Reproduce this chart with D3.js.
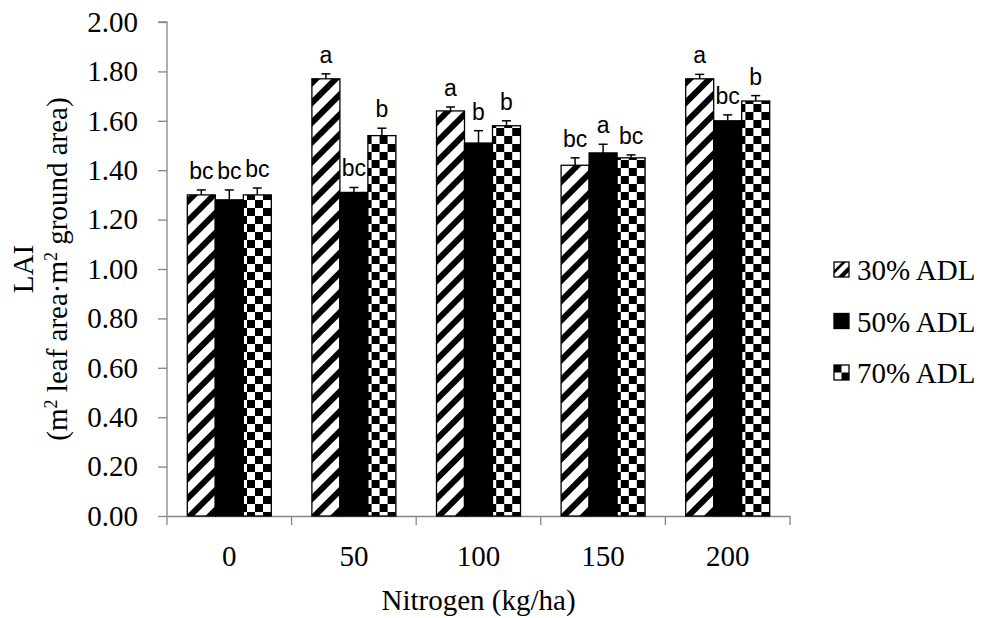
<!DOCTYPE html>
<html>
<head>
<meta charset="utf-8">
<script src="https://cdn.jsdelivr.net/npm/d3@7"></script>
<style>
  body { margin: 0; background: #fff; }
  svg { display: block; }
  svg text { font-family: "Liberation Serif", "Times New Roman", serif; }
  svg text.letter { font-family: "Liberation Sans", Arial, sans-serif; }
</style>
</head>
<body>
<script>
const width = 992;
const height = 618;

const categories = ["0", "50", "100", "150", "200"];
const seriesNames = ["30% ADL", "50% ADL", "70% ADL"];
const lai30 = [1.30, 1.77, 1.64, 1.42, 1.77];
const lai50 = [1.28, 1.31, 1.51, 1.47, 1.60];
const lai70 = [1.30, 1.54, 1.58, 1.45, 1.68];
const err30 = [0.02, 0.02, 0.016, 0.03, 0.018];
const err50 = [0.04, 0.02, 0.05, 0.035, 0.024];
const err70 = [0.028, 0.03, 0.02, 0.012, 0.022];
const letters30 = ["bc", "a", "a", "bc", "a"];
const letters50 = ["bc", "bc", "b", "a", "bc"];
const letters70 = ["bc", "b", "b", "bc", "b"];
const yTicks = [0, 0.2, 0.4, 0.6, 0.8, 1.0, 1.2, 1.4, 1.6, 1.8, 2.0];

const serif = "Liberation Serif";
const axisColor = "#868686";

const plot = {left: 167, right: 790, top: 22, bottom: 516};

const series = [
  {name: seriesNames[0], values: lai30, errs: err30, letters: letters30, fill: "url(#stripes)", legendFill: "url(#stripesLegend)"},
  {name: seriesNames[1], values: lai50, errs: err50, letters: letters50, fill: "#000", legendFill: "#000"},
  {name: seriesNames[2], values: lai70, errs: err70, letters: letters70, fill: "url(#checks)", legendFill: "url(#checksLegend)"}
];

const svg = d3.select("body")
  .append("svg")
  .attr("width", width)
  .attr("height", height);

// patterns
const defs = svg.append("defs");

const stripes = defs.append("pattern")
  .attr("id", "stripes")
  .attr("patternUnits", "userSpaceOnUse")
  .attr("width", 14)
  .attr("height", 14)
  .attr("patternTransform", "rotate(45)");
stripes.append("rect").attr("width", 14).attr("height", 14).attr("fill", "#fff");
stripes.append("rect").attr("width", 6).attr("height", 14).attr("fill", "#000");

const checks = defs.append("pattern")
  .attr("id", "checks")
  .attr("patternUnits", "userSpaceOnUse")
  .attr("width", 16)
  .attr("height", 16);
checks.append("rect").attr("width", 16).attr("height", 16).attr("fill", "#fff");
checks.append("rect").attr("width", 8).attr("height", 8).attr("fill", "#000");
checks.append("rect").attr("x", 8).attr("y", 8).attr("width", 8).attr("height", 8).attr("fill", "#000");

const stripesLegend = defs.append("pattern")
  .attr("id", "stripesLegend")
  .attr("patternUnits", "objectBoundingBox")
  .attr("patternContentUnits", "objectBoundingBox")
  .attr("width", 1)
  .attr("height", 1);
stripesLegend.append("rect").attr("width", 1).attr("height", 1).attr("fill", "#fff");
stripesLegend.append("path").attr("d", "M0.25,1 L1,0.25 L1,0.65 L0.65,1 Z").attr("fill", "#000");
stripesLegend.append("path").attr("d", "M0,0.55 L0.55,0 L0.8,0 L0,0.8 Z").attr("fill", "#000");

const checksLegend = defs.append("pattern")
  .attr("id", "checksLegend")
  .attr("patternUnits", "objectBoundingBox")
  .attr("patternContentUnits", "objectBoundingBox")
  .attr("width", 1)
  .attr("height", 1);
checksLegend.append("rect").attr("width", 1).attr("height", 1).attr("fill", "#fff");
checksLegend.append("rect").attr("width", 0.5).attr("height", 0.5).attr("fill", "#000");
checksLegend.append("rect").attr("x", 0.5).attr("y", 0.5).attr("width", 0.5).attr("height", 0.5).attr("fill", "#000");

// scales
const x0 = d3.scaleBand()
  .domain(categories)
  .range([plot.left, plot.right])
  .paddingInner(0)
  .paddingOuter(0);

const x1 = d3.scaleBand()
  .domain(seriesNames)
  .range([0, x0.bandwidth()])
  .paddingInner(0)
  .paddingOuter(0.725);

const y = d3.scaleLinear()
  .domain([0, 2])
  .range([plot.bottom, plot.top]);

// y axis
const yAxis = svg.append("g")
  .attr("transform", `translate(${plot.left},0)`)
  .call(d3.axisLeft(y).tickValues(yTicks).tickSize(9).tickPadding(20).tickFormat(d3.format(".2f")));
yAxis.attr("font-family", serif).attr("font-size", 29);
yAxis.select(".domain").attr("stroke", axisColor).attr("stroke-width", 1.3).attr("d", `M-9,${plot.top}H0V${plot.bottom}`);
yAxis.selectAll(".tick line").attr("stroke", axisColor).attr("stroke-width", 1.3);
yAxis.selectAll(".tick text").attr("fill", "#000");

// x axis
const xAxis = svg.append("g")
  .attr("transform", `translate(0,${plot.bottom})`)
  .call(d3.axisBottom(x0).tickSize(0).tickPadding(29));
xAxis.attr("font-family", serif).attr("font-size", 29);
xAxis.select(".domain").attr("stroke", axisColor).attr("stroke-width", 1.3);
xAxis.selectAll(".tick text").attr("fill", "#000");

xAxis.selectAll(".sep")
  .data(d3.range(categories.length + 1))
  .enter()
  .append("line")
  .attr("class", "sep")
  .attr("x1", function (i) { return plot.left + i * x0.bandwidth(); })
  .attr("x2", function (i) { return plot.left + i * x0.bandwidth(); })
  .attr("y1", 0)
  .attr("y2", 9)
  .attr("stroke", axisColor)
  .attr("stroke-width", 1.3);

// bars
const groups = svg.selectAll(".group")
  .data(categories)
  .enter()
  .append("g")
  .attr("class", "group")
  .attr("transform", function (d) { return `translate(${x0(d)},0)`; });

series.forEach(function (s) {
  const cx = x1(s.name) + x1.bandwidth() / 2;

  groups.append("rect")
    .attr("x", x1(s.name))
    .attr("y", function (d, i) { return y(s.values[i]); })
    .attr("width", x1.bandwidth())
    .attr("height", function (d, i) { return y(0) - y(s.values[i]); })
    .attr("fill", s.fill)
    .attr("stroke", "#000")
    .attr("stroke-width", 1.3);

  // error bars
  groups.append("line")
    .attr("x1", cx)
    .attr("x2", cx)
    .attr("y1", function (d, i) { return y(s.values[i]); })
    .attr("y2", function (d, i) { return y(s.values[i] + s.errs[i]); })
    .attr("stroke", "#000")
    .attr("stroke-width", 1.5);
  groups.append("line")
    .attr("x1", cx - 4.5)
    .attr("x2", cx + 4.5)
    .attr("y1", function (d, i) { return y(s.values[i] + s.errs[i]); })
    .attr("y2", function (d, i) { return y(s.values[i] + s.errs[i]); })
    .attr("stroke", "#000")
    .attr("stroke-width", 1.5);

  // significance letters
  groups.append("text")
    .attr("class", "letter")
    .text(function (d, i) { return s.letters[i]; })
    .attr("x", cx)
    .attr("y", function (d, i) { return y(s.values[i] + s.errs[i]) - 11; })
    .attr("text-anchor", "middle")
    .style("font-size", "23px")
    .attr("fill", "#000");
});

// axis titles
svg.append("text")
  .text("Nitrogen (kg/ha)")
  .attr("x", (plot.left + plot.right) / 2)
  .attr("y", 610)
  .attr("text-anchor", "middle")
  .style("font-size", "29px");

const yMid = (plot.top + plot.bottom) / 2;
svg.append("text")
  .text("LAI")
  .attr("transform", `translate(33,${yMid}) rotate(-90)`)
  .attr("text-anchor", "middle")
  .style("font-size", "29px");

const yTitle2 = svg.append("text")
  .attr("transform", `translate(67,${yMid}) rotate(-90)`)
  .attr("text-anchor", "middle")
  .style("font-size", "29px");
yTitle2.append("tspan").text("(m");
yTitle2.append("tspan").text("2").attr("dy", -10).style("font-size", "18px");
yTitle2.append("tspan").text(" leaf area\u00b7m").attr("dy", 10);
yTitle2.append("tspan").text("2").attr("dy", -10).style("font-size", "18px");
yTitle2.append("tspan").text(" ground area)").attr("dy", 10);

// legend
const legendY = d3.scalePoint()
  .domain(seriesNames)
  .range([270, 373]);

const legend = svg.selectAll(".legend")
  .data(series)
  .enter()
  .append("g")
  .attr("class", "legend")
  .attr("transform", function (d) { return `translate(834,${legendY(d.name)})`; });

legend.append("rect")
  .attr("x", 0)
  .attr("y", -8)
  .attr("width", 15)
  .attr("height", 15)
  .attr("fill", function (d) { return d.legendFill; })
  .attr("stroke", "#000")
  .attr("stroke-width", 1.3);

legend.append("text")
  .text(function (d) { return d.name; })
  .attr("x", 23)
  .attr("y", 10)
  .style("font-size", "29px");
</script>
</body>
</html>
